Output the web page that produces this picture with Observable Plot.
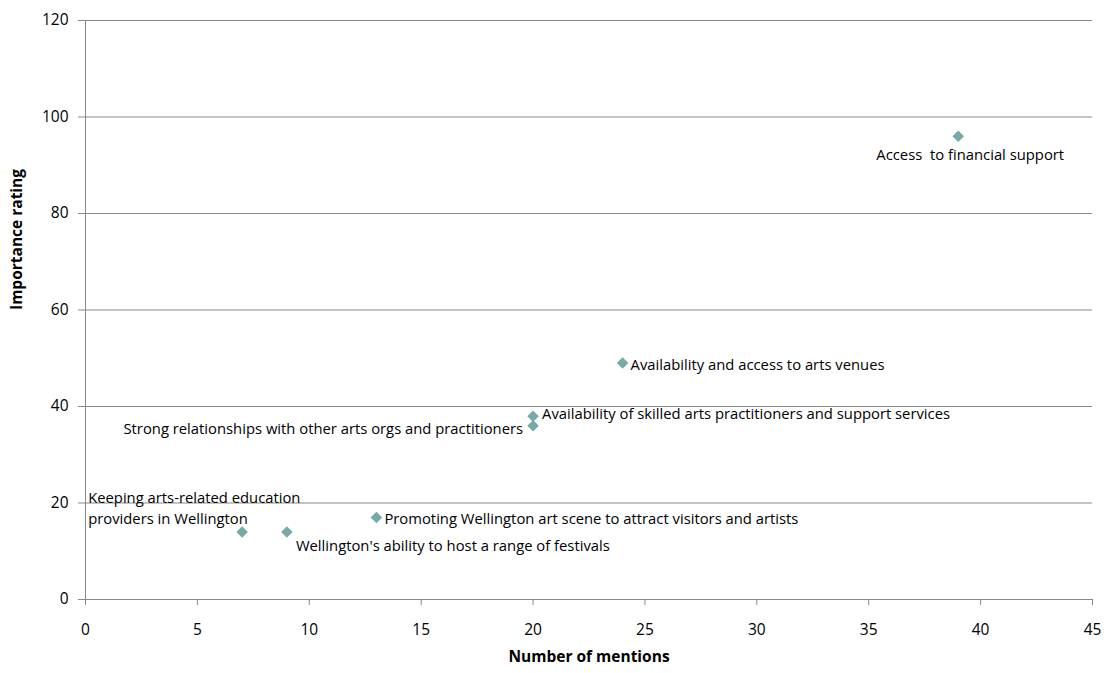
<!DOCTYPE html>
<html>
<head>
<meta charset="utf-8">
<script src="https://cdn.jsdelivr.net/npm/d3@7"></script>
<script src="https://cdn.jsdelivr.net/npm/@observablehq/plot@0.6"></script>
<style>
  html, body { margin: 0; padding: 0; background: #fff; }
  #chart svg { display: block; }
</style>
</head>
<body>
<div id="chart"></div>
<script>
// Arts sector factors: how often each was mentioned and how important it was rated
const factors = [
  "Access  to financial support",
  "Availability and access to arts venues",
  "Availability of skilled arts practitioners and support services",
  "Strong relationships with other arts orgs and practitioners",
  "Promoting Wellington art scene to attract visitors and artists",
  "Wellington's ability to host a range of festivals",
  "Keeping arts-related education\nproviders in Wellington"
];
const mentions = [39, 24, 20, 20, 13, 9, 7];
const importance = [96, 49, 38, 36, 17, 14, 14];
const labelSide = ["below", "right", "upper-right", "left", "right", "below-right", "above-left"];

const xTicks = [0, 5, 10, 15, 20, 25, 30, 35, 40, 45];
const yTicks = [0, 20, 40, 60, 80, 100, 120];

const data = factors.map((name, i) => ({
  name, mentions: mentions[i], importance: importance[i], side: labelSide[i]
}));

const font = "'Open Sans', sans-serif";
const grid = "#898989";
const marker = "#74aaa8";

const textOpts = {x: "mentions", y: "importance", text: "name", fill: "#000", fontSize: 14.8, lineHeight: 1.42};

const chart = Plot.plot({
  width: 1112,
  height: 673,
  marginLeft: 85,
  marginRight: 20,
  marginTop: 20,
  marginBottom: 74,
  style: {fontFamily: font, fontSize: "14px", color: "#000", background: "#fff"},
  x: {domain: [0, 45]},
  y: {domain: [0, 120]},
  marks: [
    Plot.ruleY(yTicks, {stroke: grid, strokeWidth: 1}),
    Plot.ruleX([0], {stroke: grid, strokeWidth: 1}),
    Plot.axisX({ticks: xTicks, tickSize: 6, tickPadding: 18, stroke: grid, fill: "#000", fontSize: 15.5, label: null}),
    Plot.axisY({ticks: yTicks, tickSize: 7, tickPadding: 10, stroke: grid, fill: "#000", fontSize: 15.5, label: null}),
    Plot.dot(data, {x: "mentions", y: "importance", symbol: "diamond2", r: 5.2, fill: marker, stroke: null}),
    Plot.text(data.filter(d => d.side === "right"), {...textOpts, textAnchor: "start", dx: 8}),
    Plot.text(data.filter(d => d.side === "upper-right"), {...textOpts, textAnchor: "start", dx: 9, dy: -4}),
    Plot.text(data.filter(d => d.side === "left"), {...textOpts, textAnchor: "end", dx: -10, dy: 1}),
    Plot.text(data.filter(d => d.side === "below"), {...textOpts, textAnchor: "middle", dx: 12, dy: 17}),
    Plot.text(data.filter(d => d.side === "below-right"), {...textOpts, textAnchor: "start", dx: 9, dy: 12}),
    Plot.text(data.filter(d => d.side === "above-left"), {...textOpts, textAnchor: "start", dx: -154, dy: -25}),
    Plot.text(["Number of mentions"], {frameAnchor: "bottom", dy: 62, fontWeight: "bold", fontSize: 15.5, fill: "#000"}),
    Plot.text(["Importance rating"], {frameAnchor: "left", dx: -68, rotate: -90, fontWeight: "bold", fontSize: 15.5, fill: "#000"})
  ]
});

document.getElementById("chart").append(chart);
</script>
</body>
</html>
